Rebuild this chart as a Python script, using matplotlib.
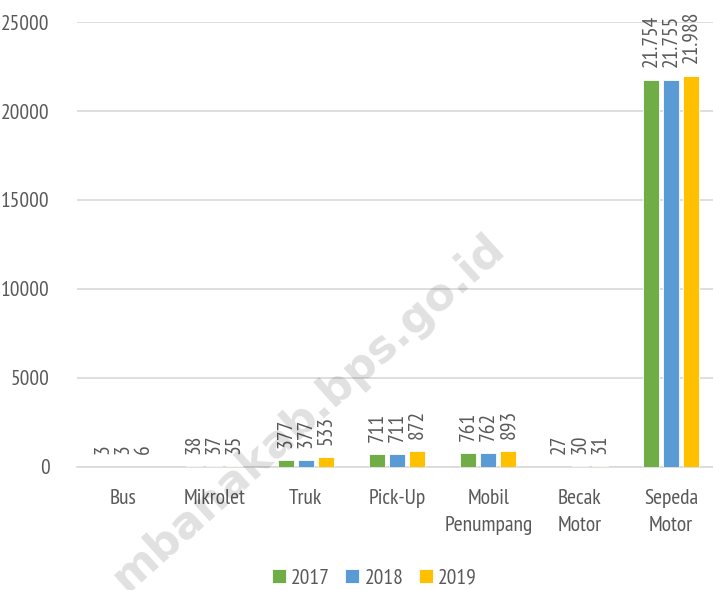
import numpy as np
import matplotlib.pyplot as plt

categories = ['Bus', 'Mikrolet', 'Truk', 'Pick-Up', 'Mobil\nPenumpang', 'Becak\nMotor', 'Sepeda\nMotor']
years = ['2017', '2018', '2019']
v2017 = [3, 38, 377, 711, 761, 27, 21754]
v2018 = [3, 37, 377, 711, 762, 30, 21755]
v2019 = [6, 35, 533, 872, 893, 31, 21988]
colors = ['#70ad47', '#5b9bd5', '#ffc000']
yticks = [0, 5000, 10000, 15000, 20000, 25000]

plt.rcParams['font.family'] = ['PT Sans Narrow', 'DejaVu Sans']
plt.rcParams['font.stretch'] = 'condensed'
txt = '#595959'

fig = plt.figure(figsize=(7.13, 5.9), dpi=100)
ax = fig.add_axes([0.1085, 0.2085, 0.8967, 0.7542])

x = np.arange(len(categories))
w = 0.175
step = 0.219
for i, (vals, c, yr) in enumerate(zip([v2017, v2018, v2019], colors, years)):
    xs = x + (i - 1) * step
    bars = ax.bar(xs, vals, w, color=c, edgecolor='white', linewidth=0.6, label=yr, zorder=3)
    for xi, v in zip(xs, vals):
        ax.annotate(f'{v:,}'.replace(',', '.'), (xi, v), xytext=(0, 9),
                    textcoords='offset points', rotation=90, ha='center', va='bottom',
                    fontsize=15.5, color=txt)

ax.set_xlim(-0.5, len(categories) - 0.5)
ax.set_ylim(0, 25000)
ax.set_yticks(yticks)
ax.set_yticklabels([str(t) for t in yticks])
ax.set_xticks(x)
ax.set_xticklabels(categories, linespacing=1.5)
ax.tick_params(axis='y', length=0, pad=20, labelsize=15.5, labelcolor=txt)
ax.tick_params(axis='x', length=0, pad=16, labelsize=15.5, labelcolor=txt)
ax.grid(axis='y', color='#d9d9d9', linewidth=1.2, zorder=0)
for s in ['top', 'right', 'left']:
    ax.spines[s].set_visible(False)
ax.spines['bottom'].set_color('#d9d9d9')
ax.spines['bottom'].set_linewidth(1.2)

leg = fig.legend(loc='center', bbox_to_anchor=(0.525, 0.02), ncol=3, frameon=False,
                 fontsize=15.5, handlelength=0.65, handleheight=0.65, handletextpad=0.25,
                 columnspacing=0.7)
for t in leg.get_texts():
    t.set_color(txt)

fig.text(0.432, 0.30, 'mbanakab.bps.go.id', rotation=42, ha='center', va='center',
         fontsize=32, fontweight='bold', family='DejaVu Sans', stretch='normal',
         color='black', alpha=0.12, zorder=10)

fig.savefig('out.png', dpi=100)
